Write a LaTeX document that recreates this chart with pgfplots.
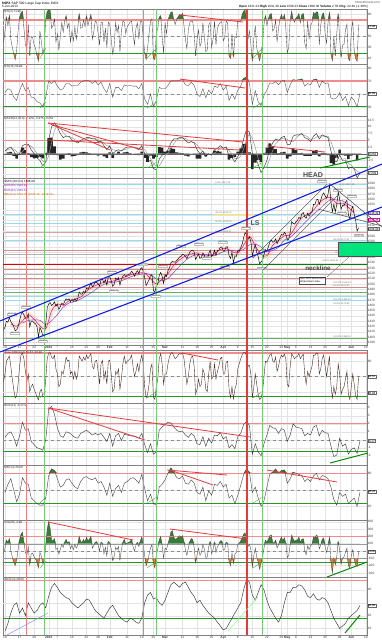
\documentclass[border=0pt]{standalone}
\usepackage{fontspec}
\setmainfont{Liberation Sans}
\usepackage{pgfplots}
\pgfplotsset{compat=1.18}
\usepackage{pgfplotstable}

\definecolor{lvred}{RGB}{238,140,140}
\definecolor{lvgreen}{RGB}{40,150,40}
\definecolor{fillgreen}{RGB}{55,125,55}
\definecolor{fillorange}{RGB}{235,125,45}
\definecolor{chblue}{RGB}{20,30,225}
\definecolor{fibcyan}{RGB}{150,220,238}
\definecolor{fibred}{RGB}{215,135,135}
\definecolor{rectgreen}{RGB}{0,228,125}
\definecolor{emapink}{RGB}{235,0,160}
\definecolor{emapurple}{RGB}{110,60,200}
\definecolor{stobrown}{RGB}{70,45,35}
\definecolor{vred}{RGB}{235,125,125}
\definecolor{vgreen}{RGB}{120,200,120}
\definecolor{trred}{RGB}{225,60,60}

\pgfplotstableread[header=false,row sep=\\]{
1414\\1418.6\\1430\\1427.8\\1437\\1428.5\\1425\\1419.5\\1412\\1413.6\\
1420\\1430.4\\1442\\1446.8\\1442\\1435.8\\1434\\1443.7\\1419\\1430.2\\
1430\\1426.7\\1425\\1419.8\\1400\\1418.1\\1412\\1402.4\\1405\\1426.2\\
1455\\1462.4\\1465\\1459.4\\1462\\1466.5\\1458\\1461.9\\1452\\1457.2\\
1464\\1461.0\\1467\\1472.1\\1470\\1472.1\\1467\\1470.7\\1467\\1472.3\\
1468\\1472.6\\1485\\1480.9\\1481\\1486.0\\1484\\1492.6\\1490\\1494.8\\
1502\\1494.8\\1498\\1503.0\\1503\\1500.2\\1496\\1507.8\\1509\\1502.0\\
1508\\1498.1\\1514\\1513.2\\1507\\1495.7\\1499\\1511.3\\1508\\1512.1\\
1498\\1509.4\\1515\\1517.9\\1514\\1517.0\\1518\\1519.4\\1524\\1520.3\\
1515\\1521.4\\1525\\1519.8\\1528\\1530.9\\1525\\1512.0\\1497\\1502.4\\
1508\\1515.6\\1518\\1487.9\\1485\\1496.9\\1500\\1516.0\\1522\\1514.7\\
1501\\1518.2\\1514\\1525.2\\1530\\1539.8\\1543\\1541.5\\1541\\1544.3\\
1547\\1551.2\\1552\\1556.2\\1555\\1552.5\\1548\\1554.5\\1560\\1563.2\\
1564\\1560.7\\1546\\1552.1\\1556\\1548.3\\1550\\1558.7\\1554\\1545.8\\
1546\\1556.9\\1564\\1551.7\\1555\\1563.8\\1554\\1562.9\\1564\\1569.2\\
1570\\1562.2\\1563\\1570.3\\1570\\1553.7\\1548\\1560.0\\1540\\1553.3\\
1552\\1563.1\\1563\\1568.6\\1575\\1587.7\\1597\\1593.4\\1584\\1588.9\\
1580\\1552.4\\1565\\1574.6\\1560\\1552.0\\1538\\1541.6\\1545\\1555.3\\
1565\\1562.5\\1570\\1578.8\\1583\\1578.8\\1580\\1585.2\\1576\\1582.2\\
1588\\1593.6\\1592\\1597.6\\1594\\1582.7\\1584\\1597.6\\1618\\1614.4\\
1613\\1617.5\\1620\\1626.0\\1623\\1632.7\\1635\\1626.7\\1624\\1633.7\\
1628\\1633.8\\1635\\1650.3\\1650\\1658.8\\1660\\1650.5\\1658\\1667.5\\
1672\\1666.3\\1662\\1669.2\\1687\\1655.4\\1636\\1650.5\\1636\\1649.6\\
1674\\1660.1\\1641\\1648.4\\1648\\1654.4\\1658\\1630.7\\1623\\1640.4\\
1646\\1631.4\\1620\\1600.0\\1606\\
}\tprice

\pgfplotstableread[header=false,row sep=\\]{
1425.0\\1420.5\\1430.3\\1442.1\\1433.5\\1421.5\\1415.6\\1449.3\\1462.6\\1460.0\\
1468.4\\1471.7\\1475.3\\1486.5\\1494.1\\1499.3\\1503.3\\1504.4\\1506.7\\1510.9\\
1514.8\\1518.9\\1520.5\\1520.9\\1510.0\\1500.1\\1509.2\\1519.4\\1535.5\\1545.7\\
1553.3\\1556.7\\1558.7\\1553.0\\1553.8\\1557.5\\1565.3\\1567.2\\1561.3\\1558.8\\
1573.1\\1590.0\\1572.0\\1556.1\\1553.1\\1573.4\\1582.1\\1591.1\\1592.6\\1609.8\\
1625.4\\1631.0\\1639.3\\1653.2\\1661.4\\1663.6\\1651.8\\1652.7\\1644.5\\1634.2\\
}\tpink

\pgfplotstableread[header=false,row sep=\\]{
1426.5\\1431.2\\1432.5\\1431.6\\1423.9\\1430.7\\1442.4\\1456.4\\1464.3\\1466.8\\
1471.7\\1478.2\\1484.9\\1493.2\\1499.3\\1502.7\\1504.0\\1506.0\\1510.9\\1515.3\\
1517.9\\1520.1\\1517.5\\1509.4\\1506.5\\1510.6\\1521.8\\1533.6\\1544.4\\1551.9\\
1555.8\\1555.7\\1555.1\\1553.9\\1558.4\\1562.4\\1563.2\\1561.7\\1565.2\\1573.6\\
1575.5\\1570.1\\1561.0\\1563.4\\1569.2\\1582.7\\1588.2\\1598.0\\1609.8\\1621.2\\
1631.5\\1641.0\\1651.6\\1659.7\\1658.4\\1657.1\\1649.9\\1645.0\\
}\tpurple

\pgfplotstableread[header=false,row sep=\\]{
40\\60\\85\\70\\88\\45\\30\\18\\8\\25\\
60\\85\\93\\96\\65\\35\\28\\72\\15\\50\\
48\\35\\28\\15\\5\\60\\40\\18\\30\\82\\
96\\98\\98\\65\\70\\82\\40\\55\\25\\50\\
75\\58\\78\\88\\65\\75\\40\\60\\42\\68\\
45\\65\\92\\65\\66\\80\\68\\88\\70\\80\\
90\\45\\58\\78\\76\\55\\35\\75\\76\\40\\
65\\30\\76\\72\\45\\18\\32\\75\\58\\70\\
22\\60\\78\\76\\55\\68\\72\\76\\78\\55\\
35\\65\\75\\45\\78\\78\\50\\20\\8\\30\\
55\\78\\82\\10\\8\\55\\65\\85\\88\\50\\
20\\75\\55\\80\\88\\94\\95\\80\\72\\82\\
86\\90\\88\\92\\70\\45\\28\\62\\76\\78\\
78\\55\\15\\45\\62\\32\\40\\75\\50\\22\\
25\\70\\76\\30\\45\\78\\35\\65\\72\\76\\
77\\42\\48\\78\\75\\15\\10\\55\\12\\50\\
48\\78\\77\\78\\90\\96\\98\\80\\45\\60\\
35\\5\\45\\70\\30\\15\\6\\20\\38\\72\\
88\\70\\82\\90\\92\\60\\64\\80\\40\\65\\
82\\90\\82\\90\\65\\20\\30\\80\\96\\82\\
76\\84\\86\\92\\75\\90\\92\\38\\28\\78\\
45\\70\\75\\94\\90\\95\\94\\35\\70\\90\\
93\\55\\38\\75\\95\\18\\6\\50\\15\\55\\
92\\45\\12\\35\\35\\62\\72\\10\\6\\60\\
78\\25\\10\\5\\72\\
}\trsitwo

\pgfplotstableread[header=false,row sep=\\]{
52\\58\\56\\45\\40\\55\\66\\55\\60\\45\\
44\\38\\36\\30\\45\\70\\66\\70\\62\\56\\
58\\66\\66\\62\\63\\63\\68\\70\\71\\70\\
66\\70\\64\\68\\58\\52\\66\\45\\60\\60\\
55\\64\\62\\63\\62\\62\\58\\66\\42\\34\\
50\\30\\40\\60\\58\\58\\63\\70\\70\\70\\
71\\72\\64\\63\\68\\63\\50\\46\\58\\44\\
56\\50\\62\\60\\66\\56\\62\\40\\50\\42\\
56\\62\\74\\76\\66\\34\\55\\38\\32\\48\\
56\\67\\66\\69\\64\\70\\71\\52\\64\\72\\
71\\72\\73\\62\\66\\64\\72\\73\\60\\70\\
66\\67\\44\\42\\44\\52\\40\\46\\32\\45\\
40\\30\\50.9\\
}\trsif

\pgfplotstableread[header=false,row sep=\\]{
1\\2\\2.5\\1\\-1\\0\\3\\3.5\\3.5\\1.5\\
0\\-1.5\\-2.5\\-4.5\\-3\\5\\10\\11.5\\10\\7.5\\
6\\6.5\\6.5\\5\\4.5\\4\\5\\5.5\\6\\6\\
5.5\\5.5\\4.5\\4.5\\3\\1.5\\3\\0\\1\\1.5\\
1\\2\\2.5\\2.5\\2.5\\2\\1.5\\3\\0\\-3\\
-2.5\\-5.5\\-6\\-2\\-0.5\\0\\1.5\\4\\5.5\\5.5\\
6\\6\\5\\4\\4.5\\4\\1.5\\0\\1\\-1\\
0\\-0.5\\1.5\\2\\3\\2\\2.5\\-1\\-1.5\\-3\\
-1\\1\\5.5\\9\\8\\0\\-1\\-4\\-7\\-5\\
-2.5\\2\\4\\5.5\\5\\6\\6.5\\3.5\\3.5\\6.5\\
7\\7\\7.5\\6\\5.5\\4.5\\6.5\\7.5\\5.5\\7\\
6.5\\6\\1\\-2.5\\-3\\-0.5\\-2.5\\-2.5\\-5.5\\-5\\
-5.5\\-9\\-7.2\\
}\tmacd

\pgfplotstableread[header=false,row sep=\\]{
1\\1.5\\1.8\\1.8\\0.8\\0\\0.7\\2.2\\3.3\\2.8\\
1.7\\0\\-1.3\\-2.8\\-3.3\\-0.8\\4\\8.8\\10.5\\9.7\\
7.8\\6.7\\6.3\\6\\5.3\\4.5\\4.5\\4.8\\5.5\\5.8\\
5.8\\5.7\\5.2\\4.8\\4\\3\\2.5\\1.5\\1.3\\0.8\\
1.2\\1.5\\1.8\\2.3\\2.5\\2.3\\2\\2.2\\1.5\\0\\
-1.8\\-3.7\\-4.7\\-4.5\\-2.8\\-0.8\\0.3\\1.8\\3.7\\5\\
5.7\\5.8\\5.7\\5\\4.5\\4.2\\3.3\\1.8\\0.8\\0\\
0\\-0.5\\0.3\\1\\2.2\\2.3\\2.5\\1.2\\0\\-1.8\\
-1.8\\-1\\1.8\\5.2\\7.5\\5.7\\2.3\\-1.7\\-4\\-5.3\\
-4.8\\-1.8\\1.2\\3.8\\4.8\\5.5\\5.8\\5.3\\4.5\\4.5\\
5.7\\6.8\\7.2\\6.8\\6.3\\5.3\\5.5\\6.2\\6.5\\6.7\\
6.3\\6.5\\4.5\\1.5\\-1.5\\-2\\-2\\-1.8\\-3.5\\-4.3\\
-5.3\\-6.5\\-7\\
}\tsig

\pgfplotstableread[header=false,row sep=\\]{
0\\0.5\\0.7\\-0.8\\-1.8\\0\\2.3\\1.3\\0.2\\-1.3\\
-1.7\\-1.5\\-1.2\\-1.7\\0.3\\5.8\\6\\2.7\\-0.5\\-2.2\\
-1.8\\-0.2\\0.2\\-1\\-0.8\\-0.5\\0.5\\0.7\\0.5\\0.2\\
-0.3\\-0.2\\-0.7\\-0.3\\-1\\-1.5\\0.5\\-1.5\\-0.3\\0.7\\
-0.2\\0.5\\0.7\\0.2\\0\\-0.3\\-0.5\\0.8\\-1.5\\-3\\
-0.7\\-1.8\\-1.3\\2.5\\2.3\\0.8\\1.2\\2.2\\1.8\\0.5\\
0.3\\0.2\\-0.7\\-1\\0\\-0.2\\-1.8\\-1.8\\0.2\\-1\\
0\\0\\1.2\\1\\0.8\\-0.3\\0\\-2.2\\-1.5\\-1.2\\
0.8\\2\\3.7\\3.8\\0.5\\-5.7\\-3.3\\-2.3\\-3\\0.3\\
2.3\\3.8\\2.8\\1.7\\0.2\\0.5\\0.7\\-1.8\\-1\\2\\
1.3\\0.2\\0.3\\-0.8\\-0.8\\-0.8\\1\\1.3\\-1\\0.3\\
0.2\\-0.5\\-3.5\\-4\\-1.5\\1.5\\-0.5\\-0.7\\-2\\-0.7\\
-0.2\\-2.5\\-0.2\\
}\thist

\pgfplotstableread[header=false,row sep=\\]{
40\\55\\80\\85\\90\\70\\45\\25\\8\\12\\
35\\70\\92\\96\\85\\60\\40\\55\\20\\30\\
35\\25\\18\\10\\4\\20\\25\\10\\12\\45\\
85\\96\\97\\88\\85\\92\\65\\55\\30\\35\\
60\\55\\70\\88\\80\\82\\55\\60\\45\\60\\
45\\55\\90\\85\\80\\88\\82\\92\\85\\90\\
95\\70\\65\\80\\82\\60\\35\\75\\82\\45\\
60\\35\\80\\82\\55\\20\\25\\60\\55\\65\\
25\\45\\75\\90\\75\\80\\82\\85\\92\\70\\
50\\60\\75\\60\\80\\92\\75\\30\\8\\15\\
35\\65\\75\\10\\5\\30\\45\\85\\95\\75\\
35\\55\\55\\75\\88\\96\\97\\90\\85\\88\\
92\\95\\94\\96\\85\\60\\35\\50\\75\\88\\
90\\70\\15\\25\\45\\30\\35\\65\\55\\25\\
20\\55\\80\\45\\50\\75\\45\\60\\70\\85\\
88\\55\\55\\78\\80\\25\\8\\30\\6\\25\\
35\\65\\75\\85\\92\\97\\98\\90\\70\\72\\
55\\8\\30\\55\\35\\15\\5\\8\\20\\50\\
80\\78\\85\\92\\95\\80\\78\\88\\60\\70\\
85\\92\\88\\94\\85\\35\\30\\70\\95\\90\\
85\\88\\90\\95\\85\\90\\94\\55\\35\\60\\
50\\60\\70\\92\\92\\96\\95\\55\\65\\85\\
92\\70\\50\\70\\90\\35\\8\\30\\15\\30\\
75\\55\\15\\25\\30\\45\\60\\15\\5\\30\\
55\\35\\12\\5\\50\\
}\tsto

\pgfplotstableread[header=false,row sep=\\]{
0.3\\0.8\\1\\0.3\\-0.8\\0.5\\2.2\\1.2\\1.4\\-0.2\\
-0.6\\-1\\-1.1\\-1.3\\0\\3.8\\4.2\\3.2\\1.5\\0.5\\
0.3\\1\\0.9\\0.6\\0.3\\0.2\\0.8\\1\\1.2\\0.9\\
0.6\\0.8\\0.6\\0.8\\0.3\\-0.2\\0.8\\-0.8\\0.5\\0.8\\
-0.1\\0.7\\0.6\\0.5\\0.5\\0.4\\0.2\\0.8\\-0.6\\-1.6\\
-0.5\\-1.8\\-1.5\\1.2\\1.6\\1.9\\2.2\\2.1\\1.6\\1.2\\
1\\1.1\\0.6\\0.3\\0.8\\0.5\\-0.5\\-0.6\\0.4\\-0.8\\
0.2\\-0.4\\0.6\\0.5\\0.9\\0.1\\0.4\\-1\\-0.6\\-1.1\\
0.4\\0.8\\1.9\\2.3\\1.8\\-1.8\\-0.5\\-1.5\\-2\\-0.5\\
0.6\\1.8\\1.5\\1.4\\0.8\\1.4\\1.2\\-0.2\\0.6\\2\\
1.6\\1.5\\1.4\\0.5\\0.8\\0.6\\1.6\\1.8\\0.5\\1.2\\
0.9\\0.8\\-0.8\\-2.1\\-1.9\\0.2\\-0.8\\-0.5\\-1.8\\-1.2\\
-1\\-1.7\\-0.17\\
}\troc

\pgfplotstableread[header=false,row sep=\\]{
45\\60\\70\\50\\28\\42\\72\\62\\60\\35\\
30\\25\\22\\22\\35\\75\\88\\85\\70\\55\\
58\\68\\70\\62\\55\\52\\65\\72\\74\\70\\
68\\72\\62\\65\\55\\40\\62\\38\\52\\58\\
45\\62\\65\\70\\72\\68\\62\\78\\52\\30\\
42\\25\\22\\55\\60\\68\\80\\90\\82\\72\\
70\\75\\62\\60\\68\\62\\45\\42\\55\\30\\
48\\40\\60\\58\\65\\55\\60\\35\\40\\25\\
40\\58\\78\\88\\82\\45\\55\\35\\20\\30\\
55\\78\\82\\88\\80\\85\\86\\62\\70\\82\\
80\\78\\76\\65\\70\\65\\75\\80\\68\\76\\
74\\70\\55\\32\\22\\45\\38\\42\\25\\30\\
35\\20\\46\\
}\tmfi

\pgfplotstableread[header=false,row sep=\\]{
-20\\40\\150\\120\\170\\0\\-80\\-150\\-200\\-120\\
20\\150\\230\\260\\120\\-20\\-60\\60\\-190\\-40\\
-30\\-80\\-110\\-160\\-230\\-20\\-70\\-170\\-140\\80\\
300\\400\\310\\150\\140\\170\\20\\40\\-40\\20\\
90\\50\\120\\160\\110\\130\\30\\80\\20\\90\\
40\\80\\200\\130\\120\\160\\120\\190\\140\\160\\
200\\40\\70\\120\\130\\80\\0\\120\\110\\-40\\
50\\-70\\130\\110\\30\\-130\\-80\\50\\20\\60\\
-120\\20\\120\\160\\90\\110\\120\\130\\160\\60\\
0\\80\\120\\60\\140\\190\\100\\-60\\-200\\-150\\
-50\\40\\90\\-170\\-230\\-60\\30\\150\\200\\70\\
-100\\40\\20\\100\\170\\260\\280\\190\\160\\170\\
190\\210\\190\\210\\130\\20\\-60\\40\\130\\170\\
160\\50\\-160\\-50\\40\\-60\\-20\\90\\30\\-90\\
-80\\60\\130\\-40\\20\\120\\-20\\60\\90\\140\\
140\\10\\20\\120\\110\\-140\\-200\\-30\\-170\\-40\\
-20\\90\\110\\140\\180\\230\\250\\170\\60\\90\\
20\\-220\\-60\\40\\-80\\-150\\-250\\-170\\-80\\40\\
150\\120\\160\\210\\220\\120\\110\\150\\40\\90\\
150\\190\\140\\180\\110\\-90\\-60\\90\\220\\170\\
130\\150\\150\\190\\120\\160\\170\\0\\-50\\70\\
20\\70\\90\\190\\180\\220\\200\\30\\80\\160\\
180\\60\\-20\\60\\190\\-150\\-300\\-100\\-190\\-80\\
130\\20\\-180\\-100\\-80\\-20\\40\\-200\\-230\\-60\\
20\\-110\\-190\\-210\\-5\\
}\tcci

\pgfplotstableread[header=false,row sep=\\]{
8\\14\\22\\28\\30\\22\\26\\20\\30\\26\\
22\\24\\28\\30\\26\\35\\42\\45\\42\\38\\
36\\34\\33\\30\\28\\26\\28\\30\\33\\32\\
28\\24\\22\\20\\18\\22\\26\\28\\24\\20\\
18\\16\\15\\18\\17\\15\\14\\18\\30\\36\\
38\\33\\34\\30\\28\\32\\38\\44\\46\\44\\
42\\45\\46\\42\\38\\35\\30\\32\\28\\25\\
22\\20\\18\\15\\12\\9\\10\\14\\18\\22\\
26\\30\\40\\48\\46\\36\\32\\38\\44\\40\\
32\\26\\22\\18\\15\\20\\30\\38\\38\\42\\
42\\44\\43\\40\\35\\34\\37\\33\\32\\34\\
33\\30\\24\\18\\14\\10\\12\\14\\18\\20\\
22\\24\\28\\
}\tadx

\pgfplotsset{
  panel/.style={
    scale only axis, width=364pt, xmin=-0.69, xmax=124.4,
    anchor=north west,
    axis line style={black!50, line width=0.35pt},
    xtick={0,5,10,15,18,23,28,32,36,42,47,51,55,61,66,71,75,80,85,90,95,97,100,105,110,115,119,124},
    xticklabels={},
    xmajorgrids, ymajorgrids,
    major grid style={black!11, line width=0.25pt},
    major tick length=0pt,
    extra y tick labels={},
    extra y tick style={grid=major, major tick length=0pt},
    yticklabel pos=right,
    yticklabel style={font=\fontsize{3.2}{3.6}\selectfont, text=black!75, inner sep=0.7pt},
    xticklabel style={font=\fontsize{3.2}{3.6}\selectfont, text=black!80, inner sep=0.9pt},
    /pgf/number format/assume math mode=true,
    /pgf/number format/1000 sep={},
    /pgf/number format/fixed,
    /pgf/number format/precision=1,
    scaled y ticks=false,
  },
  datelabels/.style={xticklabels={10,17,24,\textbf{2013},7,14,22,28,\textbf{Feb},11,19,25,\textbf{Mar},11,18,25,\textbf{Apr},8,15,22,29,\textbf{May},6,13,20,28,\textbf{Jun},10}},
}
\newcommand{\hlev}[2]{\addplot[#1, forget plot] coordinates {(-0.69,#2) (124.4,#2)};}
\tikzset{ttl/.style={anchor=north west, font=\fontsize{2.9}{3.2}\selectfont, inner sep=0.3pt, text=black!85},
  vbox/.style={anchor=west, draw=black!60, fill=white, font=\fontsize{2.9}{3.2}\selectfont, inner sep=0.4pt},
  plab/.style={draw=black!25, fill=white, font=\fontsize{2.3}{2.6}\selectfont, inner sep=0.3pt, text=black!65},
  fib/.style={font=\fontsize{2.4}{2.7}\selectfont, inner sep=0.2pt, text=black!55, anchor=west}}

\begin{document}
\begin{tikzpicture}[x=1pt,y=1pt]
\useasboundingbox[fill=white] (0,0) rectangle (382,-640);

% P1 RSI(2)
\begin{axis}[panel, at={(3pt,-9pt)}, height=55pt, ymin=0, ymax=100, ytick={10,30,50,90}, extra y ticks={70}]
\addplot[fill=fillgreen, draw=none, forget plot] table[x index=0, y index=0, x expr=\coordindex*0.5-0.5, y expr={max(\thisrowno{0},80)}]{\trsitwo} -- (122,80) -- (-0.5,80) -- cycle;
\addplot[fill=fillorange, draw=none, forget plot] table[x index=0, y index=0, x expr=\coordindex*0.5-0.5, y expr={min(\thisrowno{0},20)}]{\trsitwo} -- (122,20) -- (-0.5,20) -- cycle;
\hlev{lvred, line width=1.2pt}{80}
\hlev{lvgreen, line width=0.9pt}{20}
\hlev{black!45, dashed, line width=0.3pt}{50}
\addplot[black!72, line width=0.35pt] table[x expr=\coordindex*0.5-0.5, y index=0]{\trsitwo};
\end{axis}

% P2 RSI(14)
\begin{axis}[panel, at={(3pt,-64pt)}, height=52pt, ymin=16, ymax=96, ytick={30,70,90}, extra y ticks={50}]
\addplot[fill=fillgreen, draw=none, forget plot] table[x index=0, y index=0, x expr=\coordindex, y expr={max(\thisrowno{0},70)}]{\trsif} -- (122,70) -- (0,70) -- cycle;
\hlev{lvred, line width=1.2pt}{70}
\hlev{lvgreen, line width=0.9pt}{30}
\hlev{black!45, dashed, line width=0.3pt}{50}
\addplot[black!72, line width=0.35pt] table[x expr=\coordindex, y index=0]{\trsif};
\end{axis}

% P3 MACD
\begin{axis}[panel, at={(3pt,-116pt)}, height=62pt, ymin=-9, ymax=14, ytick={-5,-2.5,2.5,5,7.5,10,12.5}, extra y ticks={-7.5,0}]
\hlev{lvred, line width=1.2pt}{5}
\hlev{lvgreen, line width=0.9pt}{-5}
\addplot[ybar, bar width=2.7pt, fill=black!85, draw=none] table[x expr=\coordindex, y index=0]{\thist};
\hlev{black!60, line width=0.3pt}{0}
\addplot[black!40, line width=0.5pt] table[x expr=\coordindex, y index=0]{\tsig};
\addplot[black!85, line width=0.4pt] table[x expr=\coordindex, y index=0]{\tmacd};
\end{axis}

% P4 Price
\begin{axis}[panel, datelabels, at={(3pt,-178pt)}, height=167pt, ymin=1385, ymax=1700, ytick={1390,1400,...,1590,1610,1650,1660,...,1690}, extra y ticks={1600,1620,1630,1640}, /pgf/number format/precision=0]
\hlev{fibcyan, line width=0.5pt}{1688.7}
\hlev{fibcyan, line width=0.5pt}{1632.1}
\addplot[yellow!70!orange!60, line width=0.7pt, forget plot] coordinates {(71.5,1632.1) (85.4,1632.1)};
\hlev{fibcyan, line width=0.5pt}{1615.1}
\hlev{fibred!80, line width=1.3pt}{1596.8}
\hlev{fibcyan, line width=0.5pt}{1583.1}
\hlev{fibred, line width=0.5pt}{1564.2}
\hlev{black!30, line width=0.5pt}{1556.7}
\hlev{fibred, line width=0.5pt}{1528.4}
\hlev{black!30, line width=0.5pt}{1519.0}
\hlev{fibred, line width=0.5pt}{1511.4}
\hlev{fibred, line width=0.5pt}{1494.4}
\hlev{green!50!black!60, line width=0.5pt}{1485.0}
\hlev{fibcyan, line width=0.5pt}{1477.5}
\hlev{fibcyan, line width=0.5pt}{1470.0}
\hlev{green!50!black!60, line width=0.6pt}{1398.2}
\addplot[red!85!black, line width=1.3pt, forget plot] coordinates {(-0.69,1536.9) (59.4,1536.9)};
\addplot[green!50!black, line width=1.3pt, forget plot] coordinates {(59.4,1536.9) (124.4,1536.9)};
\addplot[orange, opacity=0.14, line width=6pt, smooth] table[x expr=2+2*\coordindex, y index=0]{\tpink};
\addplot[emapurple, line width=0.45pt, smooth] table[x expr=6+2*\coordindex, y index=0]{\tpurple};
\addplot[emapink, line width=0.5pt, smooth] table[x expr=2+2*\coordindex, y index=0]{\tpink};
\addplot[black, line width=0.45pt] table[x expr=\coordindex*0.5-0.5, y index=0]{\tprice};
\end{axis}

% P5 Stochastic
\begin{axis}[panel, at={(3pt,-350pt)}, height=53pt, ymin=-2, ymax=102, ytick={80}, extra y ticks={20,50}]
\hlev{lvred, line width=1.2pt}{96}
\hlev{lvgreen, line width=0.9pt}{10}
\hlev{black!45, dashed, line width=0.3pt}{50}
\addplot[stobrown, line width=0.4pt] table[x expr=\coordindex*0.5-0.5, y index=0]{\tsto};
\end{axis}

% P6 ROC
\begin{axis}[panel, at={(3pt,-403pt)}, height=62pt, ymin=-3.15, ymax=4.6, ytick={-2,-1,1,2,3,4}, extra y ticks={0}, /pgf/number format/precision=0]
\hlev{lvred, line width=1.2pt}{2}
\hlev{lvgreen, line width=0.9pt}{-1.4}
\hlev{black!45, dashed, line width=0.3pt}{0}
\addplot[black!80, line width=0.4pt] table[x expr=\coordindex, y index=0]{\troc};
\end{axis}

% P7 MFI
\begin{axis}[panel, at={(3pt,-465pt)}, height=55pt, ymin=-5, ymax=95, ytick={20,80}, extra y ticks={50}]
\addplot[fill=fillgreen, draw=none, forget plot] table[x index=0, y index=0, x expr=\coordindex, y expr={max(\thisrowno{0},80)}]{\tmfi} -- (122,80) -- (0,80) -- cycle;
\hlev{lvred, line width=1.2pt}{80}
\hlev{lvgreen, line width=0.9pt}{25}
\hlev{black!45, dashed, line width=0.3pt}{50}
\addplot[black!75, line width=0.4pt] table[x expr=\coordindex, y index=0]{\tmfi};
\end{axis}

% P8 CCI
\begin{axis}[panel, at={(3pt,-520pt)}, height=57pt, ymin=-356, ymax=425, ytick={-300,-200,-100,100,200,300,400}, extra y ticks={0}, /pgf/number format/precision=0]
\addplot[fill=fillgreen, draw=none, forget plot] table[x index=0, y index=0, x expr=\coordindex*0.5-0.5, y expr={max(\thisrowno{0},100)}]{\tcci} -- (122,100) -- (-0.5,100) -- cycle;
\addplot[fill=fillorange, draw=none, forget plot] table[x index=0, y index=0, x expr=\coordindex*0.5-0.5, y expr={min(\thisrowno{0},-100)}]{\tcci} -- (122,-100) -- (-0.5,-100) -- cycle;
\hlev{lvred, line width=1.2pt}{200}
\hlev{lvgreen, line width=0.9pt}{-150}
\hlev{black!40, line width=0.3pt}{100}
\hlev{black!40, line width=0.3pt}{-100}
\hlev{black!45, dashed, line width=0.3pt}{0}
\addplot[black!72, line width=0.35pt] table[x expr=\coordindex*0.5-0.5, y index=0]{\tcci};
\end{axis}

% P9 ADX
\begin{axis}[panel, datelabels, at={(3pt,-577pt)}, height=58pt, ymin=5, ymax=50, ytick={10,20,40}, extra y ticks={30}, /pgf/number format/precision=0]
\hlev{lvred, line width=1.2pt}{47}
\hlev{lvgreen, line width=0.9pt}{17.5}
\addplot[black!80, line width=0.45pt] table[x expr=\coordindex, y index=0]{\tadx};
\end{axis}

% signal verticals (on top of grids)
\draw[vred, line width=0.55pt] (26,-9) -- (26,-635);
\draw[vred, line width=0.55pt] (143,-9) -- (143,-635);
\draw[trred, line width=1.1pt] (247,-9) -- (247,-635);
\draw[vgreen, line width=0.55pt] (44,-9) -- (44,-635);
\draw[vgreen, line width=0.55pt] (156,-9) -- (156,-635);
\draw[vgreen, line width=0.55pt] (262,-9) -- (262,-635);

% ---- annotations ----
\node[anchor=north west, font=\fontsize{3.3}{3.6}\selectfont, inner sep=0pt] at (2,-1.5) {\textbf{\$SPX} S\&P 500 Large Cap Index INDX};
\node[anchor=north west, font=\fontsize{3.1}{3.4}\selectfont, inner sep=0pt] at (2,-5.6) {5-Jun-2013};
\node[anchor=north east, font=\fontsize{3}{3.3}\selectfont, inner sep=0pt, text=black!70] at (380,-1.3) {\copyright StockCharts.com};
\node[anchor=north east, font=\fontsize{3.1}{3.4}\selectfont, inner sep=0pt] at (368,-5.3) {\textbf{Open} 1631.24 \textbf{High} 1631.38 \textbf{Low} 1598.23 \textbf{Close} 1608.90 \textbf{Volume} 2.7B \textbf{Chg} -22.48 (-1.38\%)};
\node[ttl] at (4,-9.8) {RSI(2) 71.98};
\node[ttl] at (4,-64.8) {RSI(14) 50.89};
\node[ttl] at (4,-116.8) {MACD(12,26,9) -7.229, -6.975, -0.254};
\node[ttl] at (4,-350.8) {Slow STO(14,3) 50.57, 20.93};
\node[ttl] at (4,-403.8) {ROC(12) -0.17\%};
\node[ttl] at (4,-465.8) {MFI(14) 46.20};
\node[ttl] at (4,-520.8) {CCI(20) -4.98};
\node[ttl] at (4,-577.8) {ADX(14) 28.60};
\node[ttl, text=black] at (4,-180) {\$SPX (60 min) 1608.90};
\node[ttl, text=emapink] at (4,-184.2) {EMA(20) 1626.25};
\node[ttl, text=emapurple] at (4,-188.4) {EMA(34) 1635.42};
\node[ttl, text=orange!80!black] at (4,-192.6) {BB(20,2) 1616.25 (1593.19 - 1639.31)};
\node[vbox] at (367.5,-26.6) {71.98};
\node[vbox] at (367.5,-93.3) {50.89};
\node[vbox] at (367.5,-154) {-0.254};
\node[vbox] at (367.5,-173) {-7.229};
\node[vbox, draw=emapurple] at (367.5,-213) {1635.42};
\node[vbox, draw=emapink] at (367.5,-220) {1626.25};
\node[vbox] at (367.5,-229) {1608.90};
\node[vbox] at (367.5,-376.5) {50.57};
\node[vbox] at (367.5,-393) {20.93};
\node[vbox] at (367.5,-441) {-0.17};
\node[vbox] at (367.5,-491.4) {46.20};
\node[vbox] at (367.5,-551.4) {-4.98};
\node[vbox] at (367.5,-605.4) {28.60};
\node[fib] at (215,-183) {0.0\% 1687.18};
\node[fib] at (215,-213) {38.2\% 1629.73};
\node[fib] at (215,-222) {50.0\% 1611.60};
\node[fib] at (215,-231.5) {61.8\% 1593.47};
\node[fib] at (339,-184.5) {0.0\% 1687.18};
\node[fib] at (333,-240) {38.2\% 1577.21};
\node[fib] at (335,-253) {50.0\% 1556.52};
\node[fib] at (322,-261) {61.8\% 1540.33};
\node[fib] at (333,-282.5) {100.0\% 1516.20};
\node[fib] at (333,-286) {61.8\% 1502.32};
\node[fib] at (333,-299.5) {100.0\% 1484.60};
\node[fib] at (333,-304) {61.8\% 1473.85};
\node[fib] at (333,-336.5) {100.0\% 1398.11};
\node[plab] at (12,-314) {1437.66};
\node[plab] at (26,-307) {1448.00};
\node[plab] at (15,-333) {1411.93};
\node[plab] at (43,-341) {1398.11};
\node[plab] at (112,-272) {1514.41};
\node[plab] at (114,-291) {1495.71};
\node[plab] at (143,-264.5) {1530.94};
\node[plab] at (156,-296) {1485.01};
\node[plab] at (163,-266) {1525.84};
\node[plab] at (181,-246) {1563.62};
\node[plab] at (199,-244) {1570.57};
\node[plab] at (223,-242) {1573.66};
\node[plab] at (207,-258) {1538.57};
\node[plab] at (225,-267) {1539.50};
\node[plab] at (246,-228) {1597.35};
\node[plab] at (262,-268.5) {1536.03};
\node[plab] at (322,-181) {1687.18};
\node[plab] at (338,-190) {1674.21};
\node[plab] at (352,-196) {1658.13};
\node[plab] at (342,-213) {1622.72};
\node[plab] at (359,-235.5) {1598.23};
\draw[black!75, line width=0.35pt] (253,-258) -- (327,-184);
\draw[black!75, line width=0.35pt] (263,-270) -- (337,-196);
\draw[black!80, line width=0.45pt] (330,-184) -- (382,-227);
\draw[black!80, line width=0.45pt] (318,-209) -- (382,-226);
\draw[chblue, line width=1.1pt] (0,-321) -- (382,-164);
\draw[chblue, line width=1.1pt] (0,-352) -- (382,-207);
\draw[fill=rectgreen, draw=black!70, line width=0.4pt] (338,-242) rectangle (382,-256);
\draw[black!60, line width=0.3pt] (327,-277) -- (350,-256);
\node[draw=black!70, fill=white, font=\fontsize{2.6}{3}\selectfont, align=left, inner sep=0.8pt, anchor=north west] at (299,-277) {Two .50\% and a 61\%\\retracement area.};
\node[font=\bfseries\fontsize{7}{8}\selectfont, text=black!70] at (313,-175.3) {HEAD};
\node[font=\bfseries\fontsize{7}{8}\selectfont, text=black!65] at (255,-223.3) {LS};
\node[font=\bfseries\fontsize{6.3}{7}\selectfont, text=black!75] at (318,-267.8) {neckline};
\draw[trred, line width=0.8pt] (180,-15) -- (243,-22);
\draw[trred, line width=0.8pt] (180,-79) -- (245,-88);
\draw[trred, line width=0.8pt] (48,-123) -- (243,-142);
\draw[trred, line width=0.8pt] (48,-123) -- (110,-150);
\draw[trred, line width=0.8pt] (53,-125) -- (143,-150);
\draw[trred, line width=0.8pt] (48,-140) -- (240,-150);
\draw[trred, line width=0.8pt] (267,-146) -- (325,-152);
\draw[trred, line width=0.8pt] (182,-353) -- (218,-360);
\draw[trred, line width=0.8pt] (48,-408) -- (145,-440);
\draw[trred, line width=0.8pt] (48,-408) -- (250,-437);
\draw[trred, line width=0.8pt] (170,-470) -- (213,-485);
\draw[trred, line width=0.8pt] (167,-470) -- (227,-475);
\draw[trred, line width=0.8pt] (267,-470) -- (337,-482);
\draw[trred, line width=0.8pt] (48,-522) -- (133,-540);
\draw[trred, line width=0.8pt] (170,-529) -- (247,-539);
\draw[green!55!black, line width=1pt] (320,-168) -- (370,-157);
\draw[green!55!black, line width=1pt] (330,-463) -- (368,-453);
\draw[green!55!black, line width=1pt] (327,-577) -- (367,-562);
\draw[green!55!black, line width=1pt] (345,-633) -- (360,-615);
\draw[blue!45, line width=0.5pt] (5,-636) -- (48,-613);
\draw[green!50, line width=0.5pt] (228,-631) -- (258,-597);
\foreach \ya/\yb in {58/48, 108/102, 168/162, 398/391, 503/497, 568/561}{
  \draw[green!55!black!70, line width=0.4pt] (40,-\ya) -- (46,-\yb);
  \draw[green!55!black!70, line width=0.4pt] (147,-\ya) -- (157,-\yb);
  \draw[green!55!black!70, line width=0.4pt] (253,-\ya) -- (263,-\yb);
}
\end{tikzpicture}
\end{document}
